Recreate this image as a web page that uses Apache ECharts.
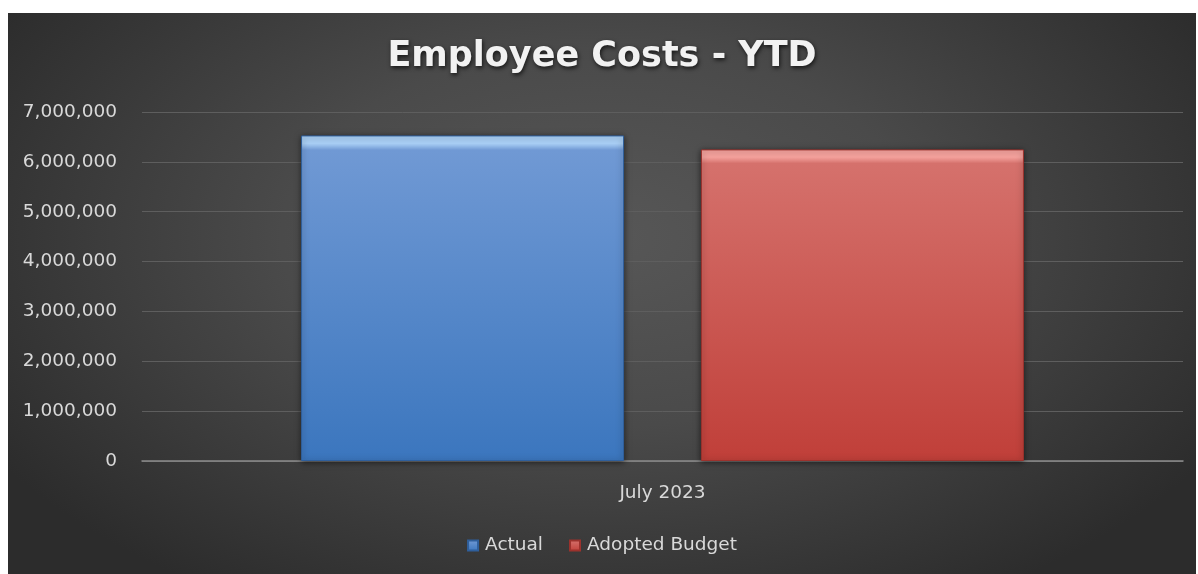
<!DOCTYPE html>
<html>
<head>
<meta charset="utf-8">
<script src="https://cdn.jsdelivr.net/npm/echarts@6/dist/echarts.min.js"></script>
<style>
html,body{margin:0;padding:0;background:#fff;width:1198px;height:574px;overflow:hidden;}
#wrap{position:absolute;left:8px;top:13px;width:1188px;height:561px;
background:radial-gradient(ellipse 60% 75% at 50% 40%, #575757 0%, #4a4a4a 45%, #2c2c2c 100%);}
#chart{width:1188px;height:561px;}
</style>
</head>
<body>
<div id="wrap"><div id="chart"></div></div>
<script>
const categories = ['July 2023'];
const seriesNames = ['Actual', 'Adopted Budget'];
const actualValues = [6530000];
const budgetValues = [6250000];
const yTicks = [0, 1000000, 2000000, 3000000, 4000000, 5000000, 6000000, 7000000];

const chart = echarts.init(document.getElementById('chart'), null, {renderer: 'canvas'});
function grad(hi, top, bottom) {
  return new echarts.graphic.LinearGradient(0, 0, 0, 1, [
    {offset: 0, color: hi},
    {offset: 0.025, color: hi},
    {offset: 0.045, color: top},
    {offset: 1, color: bottom}
  ]);
}
const fmt = v => v.toLocaleString('en-US');
const FONT = 'DejaVu Sans';
chart.setOption({
  backgroundColor: 'transparent',
  animation: false,
  title: {
    text: 'Employee Costs - YTD',
    left: 'center',
    top: 21,
    textStyle: {
      color: '#f2f2f2', fontSize: 35, fontWeight: 'bold', fontFamily: FONT,
      textShadowColor: 'rgba(0,0,0,0.7)', textShadowBlur: 4, textShadowOffsetX: 1, textShadowOffsetY: 2
    }
  },
  legend: {
    data: seriesNames,
    bottom: 14,
    left: 'center',
    icon: 'rect',
    itemWidth: 10,
    itemHeight: 10,
    itemGap: 26,
    textStyle: {color: '#d9d9d9', fontSize: 18.5, fontFamily: FONT, padding: [0, 0, 0, 2]}
  },
  grid: {left: 134, right: 13, top: 99, bottom: 113, containLabel: false},
  xAxis: {
    type: 'category',
    data: categories,
    axisLine: {lineStyle: {color: '#8c8c8c', width: 1.5}},
    axisTick: {show: false},
    axisLabel: {color: '#d9d9d9', fontSize: 18.5, fontFamily: FONT, margin: 23}
  },
  yAxis: {
    type: 'value',
    min: yTicks[0],
    max: yTicks[yTicks.length - 1],
    interval: 1000000,
    axisLine: {show: false},
    axisTick: {show: false},
    splitLine: {lineStyle: {color: '#5e5e5e', width: 1}},
    axisLabel: {color: '#d9d9d9', fontSize: 18.5, fontFamily: FONT, margin: 25, formatter: v => fmt(v)}
  },
  series: [
    {
      name: seriesNames[0], type: 'bar', data: actualValues,
      barWidth: 323, barGap: '23.8%',
      itemStyle: {
        color: grad('#a9cff5', '#7099d4', '#3b76be'),
        borderColor: '#2f5f9c', borderWidth: 1,
        shadowColor: 'rgba(0,0,0,0.55)', shadowBlur: 6, shadowOffsetY: 1
      }
    },
    {
      name: seriesNames[1], type: 'bar', data: budgetValues,
      barWidth: 323,
      itemStyle: {
        color: grad('#f5a29d', '#d5716c', '#c03f39'),
        borderColor: '#9c322d', borderWidth: 1,
        shadowColor: 'rgba(0,0,0,0.55)', shadowBlur: 6, shadowOffsetY: 1
      }
    }
  ]
});
</script>
</body>
</html>
